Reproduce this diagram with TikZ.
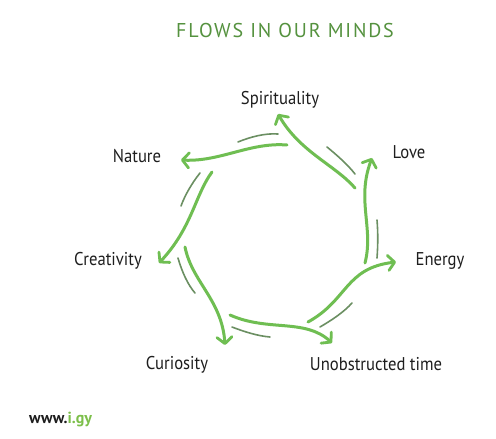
\documentclass[tikz,border=0pt]{standalone}
\usepackage{fontspec}
\setmainfont{PT Sans}
\usetikzlibrary{arrows.meta}
\definecolor{arrowgreen}{HTML}{6FBE52}
\definecolor{shadowgreen}{HTML}{6B8F62}
\definecolor{titlegreen}{HTML}{55923F}
\definecolor{logogreen}{HTML}{7CBF4A}
\definecolor{labelgray}{HTML}{1E1E1E}
\tikzset{
  flow/.style={draw=arrowgreen, line width=3pt, line cap=round,
    -{Straight Barb[length=6.5pt,width=15pt,line width=2.8pt,round]}},
  shade/.style={draw=shadowgreen, line width=1.6pt, line cap=round},
  lbl/.style={anchor=base, inner sep=0pt, text=labelgray,
    font=\addfontfeature{FakeStretch=0.9}\fontsize{18.5}{20}\selectfont},
}
\begin{document}
\begin{tikzpicture}[x=1pt,y=-1pt]
\useasboundingbox (0,0) rectangle (496,439);
\fill[white] (0,0) rectangle (496,439);
% title
\node[anchor=base, inner sep=0pt, text=titlegreen,
  font=\addfontfeature{LetterSpace=9}\fontsize{20}{22}\selectfont] (title) at (285,37.5) {FLOWS IN OUR MINDS};
% labels
\node[lbl] (spi) at (280,104) {Spirituality};
\node[lbl] (love) at (409,158) {Love};
\node[lbl] (nat) at (137,162) {Nature};
\node[lbl] (cre) at (108,265) {Creativity};
\node[lbl] (ene) at (440,265) {Energy};
\node[lbl] (cur) at (177,369) {Curiosity};
\node[lbl] (uno) at (376,370) {Unobstructed time};
% logo
\node[anchor=base west, inner sep=0pt, font=\bfseries\fontsize{16}{18}\selectfont] (logo) at (29,423) {\textcolor{labelgray}{www.}\textcolor{logogreen}{i.gy}};
% arrow start and end points
\coordinate (s1) at (355,188); \coordinate (t1) at (278,114);
\coordinate (s2) at (287,145); \coordinate (t2) at (181,160);
\coordinate (s3) at (212,172); \coordinate (t3) at (159,263);
\coordinate (s4) at (185,247); \coordinate (t4) at (225,345);
\coordinate (s5) at (230,315); \coordinate (t5) at (332,343);
\coordinate (s6) at (308,322); \coordinate (t6) at (396,262);
\coordinate (s7) at (365,263); \coordinate (t7) at (372,158);
% shadow end points
\coordinate (a1) at (327,147); \coordinate (b1) at (355,174);
\coordinate (a2) at (278,134); \coordinate (b2) at (238,142);
\coordinate (a3) at (200,173); \coordinate (b3) at (181,206);
\coordinate (a4) at (178,258); \coordinate (b4) at (195,293);
\coordinate (a5) at (232,327); \coordinate (b5) at (270,337);
\coordinate (a6) at (320,327); \coordinate (b6) at (352,303);
\coordinate (a7) at (377,220); \coordinate (b7) at (377,258);
% shadows
\draw[shade] (a1) .. controls (338,156) and (348,165) .. (b1);
\draw[shade] (a2) .. controls (265,133) and (250,137) .. (b2);
\draw[shade] (a3) .. controls (192,183) and (185,195) .. (b3);
\draw[shade] (a4) .. controls (182,272) and (188,285) .. (b4);
\draw[shade] (a5) .. controls (245,332) and (258,336) .. (b5);
\draw[shade] (a6) .. controls (332,320) and (344,312) .. (b6);
\draw[shade] (a7) .. controls (378,232) and (378,245) .. (b7);
% flows
\draw[flow] (s1) .. controls (335,165) and (300,152) .. (t1);
\draw[flow] (s2) .. controls (250,142) and (220,162) .. (t2);
\draw[flow] (s3) .. controls (195,195) and (192,228) .. (t3);
\draw[flow] (s4) .. controls (192,282) and (222,300) .. (t4);
\draw[flow] (s5) .. controls (268,332) and (305,318) .. (t5);
\draw[flow] (s6) .. controls (348,300) and (345,268) .. (t6);
\draw[flow] (s7) .. controls (374,228) and (356,200) .. (t7);
\end{tikzpicture}
\end{document}
